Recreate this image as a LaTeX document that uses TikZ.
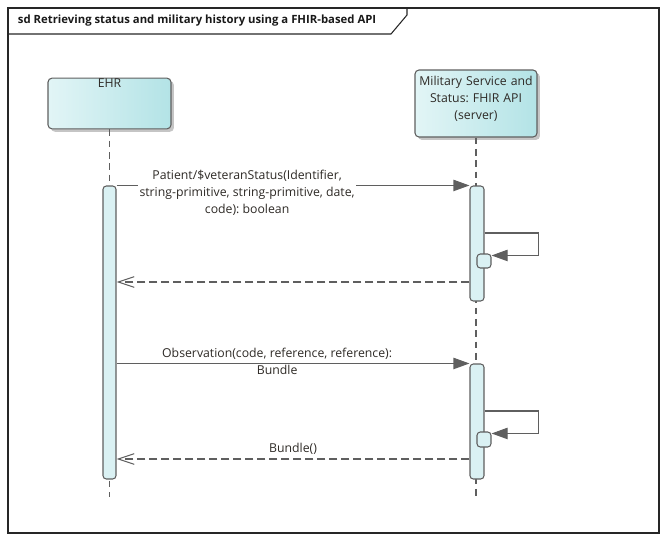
\documentclass[tikz,border=0pt]{standalone}
\usepackage{fontspec}
\setmainfont{Open Sans}
\frenchspacing
\usetikzlibrary{positioning,shapes,arrows.meta,fit,calc,shadows}
\definecolor{lineclr}{HTML}{5F5F5F}
\definecolor{txtclr}{HTML}{2E2A26}
\definecolor{headl}{HTML}{E2F5F6}
\definecolor{headr}{HTML}{B3E3E6}
\definecolor{barclr}{HTML}{DAF1F3}
\tikzstyle{head}=[draw=lineclr,rounded corners=3pt,left color=headl,right color=headr,
    inner sep=0pt,text=txtclr,drop shadow={shadow xshift=2.2pt,shadow yshift=-2.2pt,fill=black!45}]
\tikzstyle{bar}=[draw=lineclr,fill=barclr,rounded corners=2.5pt,inner sep=0pt]
\tikzstyle{lifeline}=[lineclr,dash pattern=on 5pt off 3.5pt]
\tikzstyle{call}=[-{Triangle[length=12pt,width=8.5pt]},lineclr]
\tikzstyle{reply}=[-{Straight Barb[length=12pt,width=8pt]},lineclr,dash pattern=on 6pt off 3pt]
\tikzstyle{msg}=[fill=white,align=center,inner sep=1pt,text=txtclr]
\newcommand{\newBar}[3]{\node[bar,fit={#2 #3}](#1){};}
\newcommand{\newSelf}[3]{\draw[call] (#1.east |- #2) -- ++(54,0) |- ($(#3.north east)+(0,2)$);}

\begin{document}
\begin{tikzpicture}[x=0.75pt,y=-0.75pt,line width=0.8pt,
        font=\fontsize{9.2}{13}\selectfont
        ]
        \useasboundingbox (0,0) rectangle (670,543);
        % frame
        \draw[black!85] (8,8) rectangle (659,533);
        \draw[black!85] (8,34) -- (391,34) -- (407,15) -- (407,8);
        \node[anchor=west,font=\fontsize{8.5}{13}\selectfont\bfseries,text=black!90](title) at (13,21)
            {sd Retrieving status and military history using a FHIR-based API};
        % lifelines
        \node[head,fit={(48,70) (171,137)},text height=7pt,text depth=31pt](ehr){EHR};
        \node[head,fit={(415,70) (537,137)},align=center](api){\rule{0pt}{11pt}Military Service and\\Status: FHIR API\\(server)};
        \coordinate (ehrend) at (ehr.south |- 0,497);
        \coordinate (apiend) at (api.south |- 0,497);
        \draw[lifeline] (ehr) -- (ehrend);
        \draw[lifeline] (api) -- (apiend);
        % activations
        \newBar{ehrbar}{(103,186)}{(116,479)}
        \newBar{apibar1}{(470,186)}{(484,301)}
        \newBar{apibar2}{(470,364)}{(484,479)}
        \newBar{sub1}{(477,254)}{(491,268)}
        \newBar{sub2}{(477,432)}{(491,447)}
        \coordinate (s1) at (0,233);
        \coordinate (r1) at (0,282);
        \coordinate (s2) at (0,411);
        \coordinate (r2) at (0,459);
        % messages
        \draw[call] (ehrbar.north east) -- node[msg,pos=0.37,yshift=-5.5pt](m1)
            {Patient/\$veteranStatus(Identifier,\\string-primitive, string-primitive, date,\\code): boolean} (apibar1.north west);
        \newSelf{apibar1}{s1}{sub1}
        \draw[reply] (apibar1.west |- r1) -- (ehrbar.east |- r1);
        \draw[call] (ehrbar.east |- apibar2.north) -- node[msg,fill=none,pos=0.455,yshift=1pt](m2)
            {Observation(code, reference, reference):\\{\setlength\fboxsep{1pt}\colorbox{white}{Bundle}}} (apibar2.north west);
        \newSelf{apibar2}{s2}{sub2}
        \draw[reply] (apibar2.west |- r2) -- node[msg,fill=none,above,pos=0.5,yshift=2pt](r2l){Bundle()} (ehrbar.east |- r2);
\end{tikzpicture}
\end{document}
